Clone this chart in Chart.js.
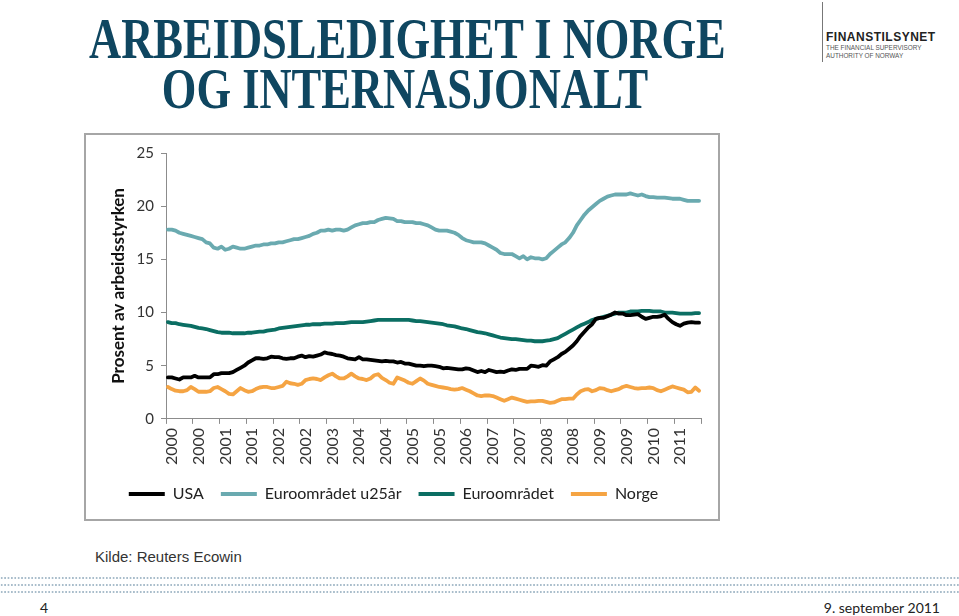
<!DOCTYPE html>
<html>
<head>
<meta charset="utf-8">
<script src="https://cdn.jsdelivr.net/npm/chart.js@4/dist/chart.umd.min.js"></script>
<style>
  html, body { margin: 0; padding: 0; background: #fff; }
  body { width: 959px; height: 616px; position: relative; overflow: hidden; }
  #title { position: absolute; left: 0; top: 14px; width: 810px; text-align: center;
    font-family: "Liberation Serif", "Times New Roman", serif; font-weight: bold; font-size: 57px;
    line-height: 50px; color: #0f4660; transform: scaleX(0.78); transform-origin: 405px 0; white-space: nowrap; }
  #logoBar { position: absolute; left: 822px; top: 2px; width: 1px; height: 60px; background: #777; }
  #logoName { position: absolute; left: 826px; top: 31px; font-family: "Liberation Sans", Arial, sans-serif;
    font-weight: bold; font-size: 12px; letter-spacing: 0.5px; color: #222; line-height: 12px; }
  #logoSub { position: absolute; left: 826px; top: 44px; font-family: "Liberation Sans", Arial, sans-serif;
    font-size: 6.4px; color: #555; line-height: 8px; }
  #box { position: absolute; left: 84px; top: 133px; width: 636px; height: 388px; box-sizing: border-box;
    border: 2px solid #a6a6a6; background: #fff; }
  #box canvas { display: block; }
  #source { position: absolute; left: 95px; top: 548px; font-family: "Liberation Sans", Arial, sans-serif;
    font-size: 15px; color: #333; }
  .dots { position: absolute; left: 0; width: 959px; height: 2px;
    background-image: radial-gradient(circle, #a9bdcb 0.9px, rgba(255,255,255,0) 1.1px);
    background-size: 3.4px 2px; }
  #pageNo { position: absolute; left: 40px; top: 599px; font-family: "Liberation Sans Narrow", Lato, sans-serif; font-size: 14px; color: #222; }
  #date { position: absolute; right: 19px; top: 599px; font-family: "Liberation Sans Narrow", Lato, sans-serif; font-size: 14px; color: #222; }
</style>
</head>
<body>
<div id="title">ARBEIDSLEDIGHET I NORGE<br>OG INTERNASJONALT</div>
<div id="logoBar"></div>
<div id="logoName">FINANSTILSYNET</div>
<div id="logoSub">THE FINANCIAL SUPERVISORY<br>AUTHORITY OF NORWAY</div>
<div id="box"><canvas id="chart" width="632" height="384"></canvas></div>
<div id="source">Kilde: Reuters Ecowin</div>
<div class="dots" style="top:577px"></div>
<div class="dots" style="top:584px"></div>
<div class="dots" style="top:591px"></div>
<div id="pageNo">4</div>
<div id="date">9. september 2011</div>

<script>
// Monthly observations, Jan 2000 - Aug 2011
const startYear = 2000;
const monthCount = 140;

const xTickLabels = ['2000','2000','2001','2001','2002','2002','2003','2004','2004','2005',
                     '2005','2006','2007','2007','2008','2008','2009','2009','2010','2011'];
const tickEvery = 7;

const yTicks = [0, 5, 10, 15, 20, 25];

const seriesNames = ['USA', 'Euroområdet u25år', 'Euroområdet', 'Norge'];

const usa = [
  3.9,3.9,3.8,3.7,3.9,3.9,3.9,4.05,3.9,3.9,3.9,3.9,
  4.2,4.2,4.3,4.3,4.3,4.4,4.6,4.8,5.0,5.3,5.5,5.7,
  5.7,5.65,5.7,5.85,5.8,5.8,5.7,5.65,5.7,5.7,5.85,5.95,
  5.8,5.9,5.85,5.95,6.05,6.25,6.15,6.1,6.0,5.95,5.85,5.7,
  5.65,5.6,5.8,5.6,5.6,5.55,5.5,5.45,5.4,5.45,5.4,5.4,
  5.3,5.35,5.2,5.2,5.1,5.0,5.0,4.95,5.0,5.0,4.95,4.9,
  4.75,4.8,4.75,4.7,4.65,4.65,4.75,4.7,4.55,4.4,4.5,4.4,
  4.6,4.5,4.4,4.45,4.4,4.55,4.65,4.6,4.7,4.7,4.7,5.0,
  4.95,4.9,5.05,5.0,5.4,5.6,5.8,6.1,6.3,6.6,6.9,7.3,
  7.8,8.2,8.6,8.9,9.4,9.5,9.5,9.65,9.8,10.0,9.9,9.9,
  9.75,9.75,9.8,9.85,9.6,9.4,9.5,9.6,9.6,9.65,9.8,9.4,
  9.1,8.9,8.75,8.95,9.05,9.1,9.05,9.05
];

const euroU25 = [
  17.8,17.8,17.7,17.5,17.4,17.3,17.2,17.1,17.0,16.9,16.6,16.5,
  16.1,16.0,16.2,15.9,16.0,16.2,16.1,16.0,16.0,16.1,16.2,16.3,
  16.3,16.4,16.4,16.5,16.5,16.6,16.6,16.7,16.8,16.9,16.9,17.0,
  17.1,17.2,17.4,17.5,17.7,17.7,17.8,17.7,17.8,17.8,17.7,17.8,
  18.0,18.2,18.3,18.4,18.4,18.5,18.5,18.7,18.8,18.9,18.85,18.8,
  18.6,18.6,18.5,18.5,18.5,18.4,18.4,18.3,18.2,18.0,17.8,17.7,
  17.7,17.7,17.6,17.5,17.3,17.0,16.8,16.7,16.6,16.6,16.6,16.5,
  16.3,16.1,15.9,15.6,15.5,15.5,15.5,15.3,15.1,15.3,15.0,15.2,
  15.1,15.1,15.0,15.1,15.5,15.8,16.1,16.4,16.6,17.0,17.5,18.2,
  18.7,19.2,19.6,19.9,20.2,20.5,20.7,20.9,21.0,21.1,21.1,21.1,
  21.1,21.2,21.1,21.0,21.1,20.95,20.85,20.85,20.8,20.8,20.8,20.75,
  20.7,20.7,20.7,20.6,20.5,20.5,20.5,20.5
];

const euro = [
  9.1,9.0,9.0,8.9,8.85,8.8,8.75,8.65,8.55,8.5,8.45,8.35,
  8.25,8.15,8.1,8.1,8.1,8.05,8.05,8.05,8.05,8.1,8.1,8.15,
  8.2,8.2,8.3,8.35,8.4,8.5,8.55,8.6,8.65,8.7,8.75,8.8,
  8.85,8.85,8.9,8.9,8.9,8.95,8.95,8.95,9.0,9.0,9.0,9.05,
  9.1,9.1,9.1,9.1,9.15,9.2,9.25,9.3,9.3,9.3,9.3,9.3,
  9.3,9.3,9.3,9.3,9.25,9.2,9.2,9.15,9.1,9.05,9.0,8.95,
  8.9,8.8,8.75,8.7,8.6,8.5,8.45,8.35,8.25,8.15,8.1,8.05,
  7.95,7.85,7.75,7.65,7.6,7.55,7.5,7.5,7.45,7.4,7.35,7.35,
  7.3,7.3,7.3,7.35,7.4,7.5,7.6,7.8,8.0,8.2,8.4,8.6,
  8.8,8.95,9.1,9.3,9.4,9.5,9.6,9.7,9.8,9.9,10.0,10.0,
  10.0,10.1,10.1,10.1,10.15,10.15,10.15,10.1,10.1,10.1,10.0,10.0,
  10.0,9.95,9.9,9.9,9.9,9.9,9.95,9.95
];

const norge = [
  3.0,2.8,2.65,2.6,2.6,2.7,3.0,2.8,2.55,2.55,2.55,2.6,
  2.9,3.0,2.8,2.6,2.35,2.3,2.6,2.9,2.7,2.55,2.6,2.8,
  2.95,3.0,3.0,2.9,2.9,3.0,3.1,3.5,3.35,3.3,3.2,3.3,
  3.65,3.75,3.8,3.75,3.65,3.9,4.1,4.25,4.0,3.8,3.8,4.0,
  4.25,4.0,3.8,3.75,3.65,3.8,4.1,4.2,3.85,3.65,3.4,3.3,
  3.9,3.75,3.6,3.4,3.3,3.55,3.8,3.6,3.3,3.2,3.1,3.0,
  2.95,2.9,2.8,2.75,2.8,2.9,2.75,2.6,2.4,2.2,2.15,2.2,
  2.2,2.15,2.0,1.85,1.7,1.85,2.0,1.9,1.8,1.7,1.6,1.65,
  1.65,1.7,1.7,1.6,1.5,1.55,1.7,1.85,1.85,1.9,1.9,2.3,
  2.6,2.75,2.8,2.6,2.7,2.9,2.85,2.7,2.6,2.7,2.8,3.0,
  3.1,3.0,2.9,2.85,2.9,2.9,2.95,2.9,2.7,2.6,2.75,2.9,
  3.05,2.95,2.85,2.75,2.5,2.55,2.95,2.65
];

const months = [];
for (let i = 0; i < monthCount; i++) {
  const y = startYear + Math.floor(i / 12);
  const m = (i % 12) + 1;
  months.push(y + '-' + (m < 10 ? '0' + m : m));
}

const colors = ['#000000', '#6aaab0', '#0b6e63', '#f5a443'];
const seriesData = [usa, euroU25, euro, norge];

const axisColor = '#8c8c8c';
const tickFont = { family: 'Lato, "Open Sans", sans-serif', size: 15 };

new Chart(document.getElementById('chart'), {
  type: 'line',
  data: {
    labels: months,
    datasets: seriesNames.map((name, k) => ({
      label: name,
      data: seriesData[k],
      borderColor: colors[k],
      backgroundColor: colors[k],
      borderWidth: 3.8,
      pointRadius: 0,
      tension: 0,
      borderJoinStyle: 'round',
      borderCapStyle: 'round',
      fill: false
    }))
  },
  options: {
    responsive: false,
    animation: false,
    devicePixelRatio: 1,
    layout: { padding: { left: 0, right: 17, top: 18, bottom: 7 } },
    plugins: {
      title: { display: false },
      tooltip: { enabled: false },
      legend: {
        position: 'bottom',
        labels: {
          font: { family: 'Lato, "Open Sans", sans-serif', size: 16 },
          color: '#222',
          boxWidth: 36,
          boxHeight: 4,
          padding: 17,
          generateLabels: (chart) => {
            const items = Chart.defaults.plugins.legend.labels.generateLabels(chart);
            return items.map(it => Object.assign(it, { lineWidth: 0, fillStyle: it.strokeStyle }));
          }
        }
      }
    },
    scales: {
      x: {
        type: 'category',
        offset: true,
        border: { display: true, color: axisColor, width: 1 },
        grid: {
          offset: true,
          drawOnChartArea: false,
          drawTicks: true,
          tickLength: 5,
          color: (c) => (c.index === undefined || c.index % tickEvery === 0) ? axisColor : 'rgba(0,0,0,0)'
        },
        afterFit: (scale) => { scale.paddingRight = 0; scale.paddingLeft = 0; },
        ticks: {
          autoSkip: false,
          maxRotation: 90,
          minRotation: 90,
          padding: 4,
          labelOffset: 4,
          color: '#333',
          font: { family: 'Lato, "Open Sans", sans-serif', size: 16 },
          callback: (val, idx) => (idx % tickEvery === 0) ? xTickLabels[idx / tickEvery] : ''
        }
      },
      y: {
        min: yTicks[0],
        max: yTicks[yTicks.length - 1],
        border: { display: true, color: axisColor, width: 1 },
        grid: { drawOnChartArea: false, drawTicks: true, tickLength: 5, color: axisColor },
        afterBuildTicks: (scale) => { scale.ticks = yTicks.map(v => ({ value: v })); },
        afterFit: (scale) => { scale.width = 80; },
        ticks: { padding: 7, color: '#333', font: tickFont },
        title: {
          display: true,
          text: 'Prosent av arbeidsstyrken',
          color: '#111',
          font: { family: 'Lato, "Open Sans", sans-serif', size: 17, weight: 'bold' },
          padding: { top: 22, bottom: 0 }
        }
      }
    }
  }
});
</script>
</body>
</html>
